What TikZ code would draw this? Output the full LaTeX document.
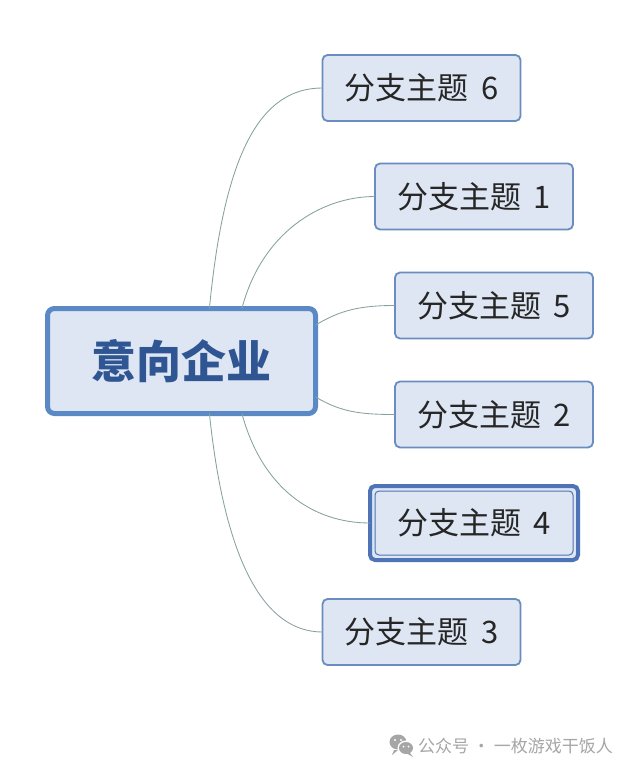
\documentclass[tikz,border=0pt]{standalone}
\usepackage{fontspec}
\newfontfamily\cjk{Noto Sans CJK SC}
\definecolor{nodefill}{HTML}{DDE6F2}
\definecolor{nodeborder}{HTML}{6A8CC0}
\definecolor{mainborder}{HTML}{5A89C6}
\definecolor{maintext}{HTML}{2F5593}
\definecolor{selborder}{HTML}{4E73B6}
\definecolor{connc}{HTML}{86A2A0}
\definecolor{wmgray}{HTML}{A6A6A6}
\begin{document}
\begin{tikzpicture}[x=1pt,y=-1pt,
  mainbox/.style={draw=mainborder,fill=nodefill,line width=5pt,rounded corners=7pt,
    minimum width=268pt,minimum height=105pt,inner sep=0pt,outer sep=0pt,
    font=\cjk\bfseries\fontsize{45}{50}\selectfont,text=maintext},
  branch/.style={draw=nodeborder,fill=nodefill,line width=1.8pt,rounded corners=5pt,
    minimum width=198pt,minimum height=66pt,inner sep=0pt,outer sep=0pt,
    font=\cjk\fontsize{31}{36}\selectfont,text=black!85},
  selbranch/.style={branch,draw=selborder,line width=4pt,minimum width=208pt,minimum height=74pt},
  conn/.style={draw=connc,line width=0.85pt},
  wm/.style={font=\cjk\fontsize{17}{20}\selectfont,text=wmgray,anchor=west,inner sep=0pt}
]
\useasboundingbox[fill=white] (0,0) rectangle (636,770);

\node[mainbox] (c) at (181.5,361) {意向企业};

\node[branch] (b6) at (421.5,88) {分支主题\hspace{0.4em}6};
\node[branch] (b1) at (474,196.5) {分支主题\hspace{0.4em}1};
\node[branch] (b5) at (494,305.5) {分支主题\hspace{0.4em}5};
\node[branch] (b2) at (494,414.5) {分支主题\hspace{0.4em}2};
\node[selbranch] (b4) at (474,523) {分支主题\hspace{0.4em}4};
\draw[selborder,line width=1pt,rounded corners=4pt]
  ([shift={(5,-5)}]b4.south west) rectangle ([shift={(-5,5)}]b4.north east);
\node[branch] (b3) at (421.5,632) {分支主题\hspace{0.4em}3};

\draw[conn] (c.62) .. controls +(15,-156) and +(-62,0) .. (b6.west);
\draw[conn] (c.41) .. controls +(20,-76) and +(-54,0) .. (b1.west);
\draw[conn] (c.15) .. controls +(25,-15) and +(-35,0) .. (b5.west);
\draw[conn] (c.-15) .. controls +(25,15) and +(-35,0) .. (b2.west);
\draw[conn] (c.-41) .. controls +(20,74) and +(-58,0) .. (b4.west);
\draw[conn] (c.-62) .. controls +(15,144) and +(-60,0) .. (b3.west);

% watermark
\fill[wmgray] (398,742) ellipse [x radius=8.5pt, y radius=7.5pt];
\fill[wmgray] (394,750) -- (392,755) -- (398,750) -- cycle;
\fill[white] (406,748) ellipse [x radius=8.5pt, y radius=7.5pt];
\fill[wmgray] (406,748) ellipse [x radius=7pt, y radius=6pt];
\fill[wmgray] (410,753) -- (413,757) -- (406,753) -- cycle;
\fill[white] (395,740) circle (1.2pt) (401,740) circle (1.2pt);
\fill[white] (403.5,746.5) circle (1pt) (408.5,746.5) circle (1pt);
\node[wm] (w) at (418,746) {公众号 · 一枚游戏干饭人};
\end{tikzpicture}
\end{document}
